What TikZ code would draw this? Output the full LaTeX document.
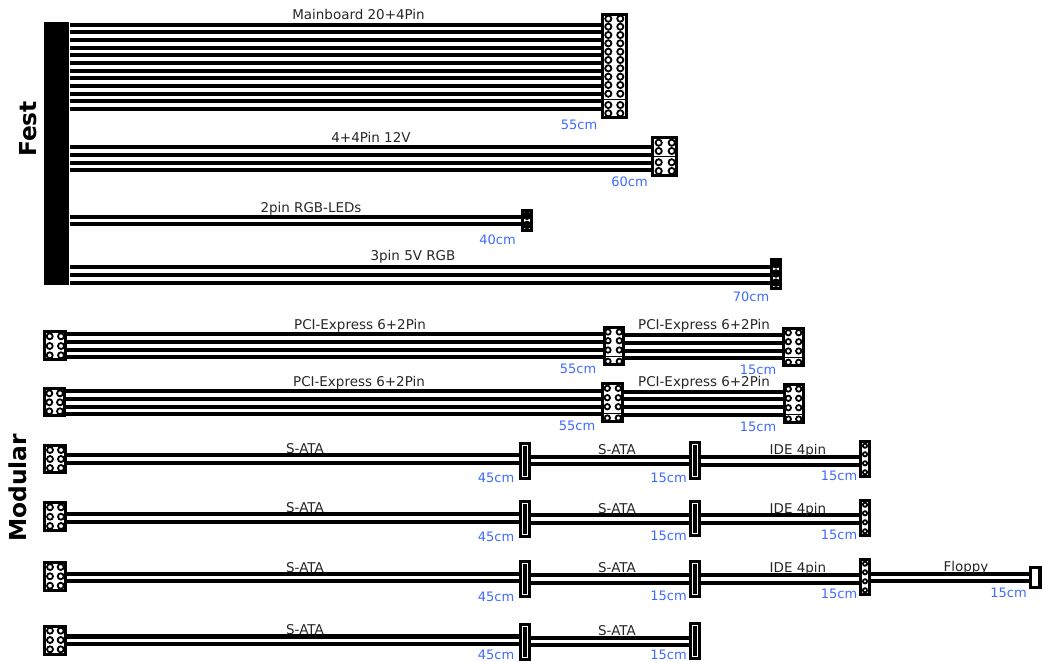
\documentclass[tikz,border=0pt]{standalone}
\usepackage{fontspec}
\setmainfont{DejaVu Sans}
\usepackage{xcolor}
\usetikzlibrary{positioning}
\definecolor{lengthblue}{HTML}{3F6BFF}
\newcommand{\wires}[3]{\foreach \y in {#3} \draw[wire] (#1.east |- 0,\y) -- (#2.west |- 0,\y);}
\newcommand{\rings}[3]{\foreach \x in {#1} \foreach \y in {#2} \draw[ringpin] (\x,\y) circle [radius=#3];}
\newcommand{\blackpins}[2]{\foreach \y in {#2} \fill (#1,\y) circle [radius=4.3];}
\newcommand{\parting}[2]{\draw[parting] (#1.west |- 0,#2) -- (#1.east |- 0,#2);}
\tikzset{
    wire/.style={line width=3.1pt, black},
    ringpin/.style={draw=black, fill=white, line width=1.35pt},
    parting/.style={line width=0.75pt, black, shorten <=0.75pt, shorten >=0.75pt},
    plug/.style 2 args={draw=black, fill=white, line width=2.25pt, inner sep=0pt,
        minimum width=#1*0.75pt, minimum height=#2*0.75pt},
    sataplug/.style={draw=black, fill=black, line width=2.25pt, double=white, double distance=0.75pt,
        inner sep=0pt, minimum width=3.75pt, minimum height=#1*0.75pt},
    cablename/.style={anchor=base, inner sep=0pt, text=black!85, font=\fontsize{10.1}{12}\selectfont},
    cablelength/.style={anchor=base, inner sep=0pt, text=lengthblue, font=\fontsize{9.75}{11}\selectfont},
    grouptitle/.style={anchor=center, rotate=90, inner sep=0pt, font=\fontsize{17.5}{20}\selectfont\bfseries}
}

\begin{document}
\begin{tikzpicture}[x=0.75pt, y=-0.75pt]
            \useasboundingbox (0,0) rectangle (1042,661);

            %Group titles
            \node[grouptitle] at (28,129) (fest) {Fest};
            \node[grouptitle] at (18,488) (modular) {Modular};

            %Fixed cables
            \node[fill=black, inner sep=0pt, minimum width=19.1pt, minimum height=196.9pt] at (56.75,153.25) (bar) {};
            \node[plug={23.4}{103}] at (614.5,66.3) (mainboard) {};
            \node[plug={23.4}{38}] at (664.5,156.8) (twelve) {};
            \node[plug={8.7}{19.4}] at (526.9,220.5) (rgbled) {};
            \node[plug={8.4}{28.4}] at (776,274) (rgbfive) {};

            %Modular cables
            \node[plug={20.4}{28}] at (55,345.8) (pcistartA) {};
            \node[plug={18.4}{37}] at (614,346) (pcimidA) {};
            \node[plug={19.4}{37.3}] at (793.5,347.2) (pciendA) {};
            \node[plug={19.4}{26.7}] at (54.5,402.2) (pcistartB) {};
            \node[plug={19.7}{38}] at (612.7,402.8) (pcimidB) {};
            \node[plug={19}{38}] at (793.7,403.8) (pciendB) {};

            \node[plug={20.4}{27.3}] at (55,459.2) (sataA) {};
            \node[sataplug=31.3] at (525,460.8) (sataAa) {};
            \node[sataplug=31.7] at (695,460.3) (sataAb) {};
            \node[plug={9}{34.7}] at (865,458.8) (ideA) {};

            \node[plug={20.4}{28.3}] at (55,516.7) (sataB) {};
            \node[sataplug=30.7] at (525,518.8) (sataBa) {};
            \node[sataplug=30.3] at (695,518.7) (sataBb) {};
            \node[plug={9}{34.7}] at (865,517.8) (ideB) {};

            \node[plug={20.4}{27.7}] at (55,576.3) (sataC) {};
            \node[sataplug=30.7] at (525,578.8) (sataCa) {};
            \node[sataplug=30.7] at (695,578.8) (sataCb) {};
            \node[plug={9}{34.7}] at (865,576.8) (ideC) {};
            \node[plug={20}{19.7}] at (1040,577.3) (floppy) {};
            \node[fill=black, inner sep=0pt, minimum width=9pt, minimum height=17pt] at (1044,577.3) (floppyend) {};

            \node[plug={20.4}{27.7}] at (55,640.3) (sataD) {};
            \node[sataplug=31] at (525,641.7) (sataDa) {};
            \node[sataplug=31] at (695,641.3) (sataDb) {};

            %Lines
            \wires{bar}{mainboard}{24.7,32.3,40,47.7,55.3,63,70.7,78.3,86,93.7,101.3,109}
            \wires{bar}{twelve}{146.7,154.7,162.7,170.3}
            \wires{bar}{rgbled}{216.7,224.3}
            \wires{bar}{rgbfive}{267,275,282.7}

            \wires{pcistartA}{pcimidA}{334,342,350,357.3}
            \wires{pcimidA}{pciendA}{335,342.7,350.7,358.3}
            \wires{pcistartB}{pcimidB}{390.7,398.7,406.7,414.3}
            \wires{pcimidB}{pciendB}{391.7,399.3,407,414.7}

            \wires{sataA}{sataAa}{455,462.7}
            \wires{sataAa}{sataAb}{456.7,464.3}
            \wires{sataAb}{ideA}{457.3,464.7}
            \wires{sataB}{sataBa}{514.3,521.7}
            \wires{sataBa}{sataBb}{515.3,523}
            \wires{sataBb}{ideB}{515,522.7}
            \wires{sataC}{sataCa}{573.7,581}
            \wires{sataCa}{sataCb}{575.3,583}
            \wires{sataCb}{ideC}{575.3,583}
            \wires{ideC}{floppy}{574,581.3}
            \wires{sataD}{sataDa}{636.5,644}
            \wires{sataDa}{sataDb}{637.7,645.3}

            %Pins
            \rings{608.3,620.3}{18.7,26.7,35,43.3,51.7,60,68.3,76.7,85,93.7,105,113.3}{3.1}
            \rings{658.7,671.7}{142.7,151,162.3,171}{3.1}
            \blackpins{527}{215.7,225}
            \blackpins{776}{264.3,273.5,282.7}
            \rings{49.7,61}{336.3,346,355.3}{3}
            \rings{608,619.3}{332,340.7,350,361.3}{2.7}
            \rings{788.3,798.7}{332.7,341.7,351,362.3}{2.7}
            \rings{49.3,60}{393.3,402.3,411.3}{3}
            \rings{607.3,618.3}{388.3,397.7,406.7,418}{2.7}
            \rings{788.3,798.7}{389,398.3,407.7,419}{2.7}
            \rings{50,61}{450,459,468}{3}
            \rings{50,61}{507.3,516.7,526}{3}
            \rings{50,60.7}{567,576.3,585.7}{3}
            \rings{50,60.7}{630.7,640,649.3}{3}
            \rings{865}{445.7,454.3,463.3,472.3}{2.1}
            \rings{865}{504.7,513.3,522.3,531.3}{2.1}
            \rings{865}{563.7,572.3,581.3,590.3}{2.1}
            \parting{mainboard}{99.3}
            \parting{twelve}{156}
            \parting{pcimidA}{356.7}
            \parting{pciendA}{357.7}
            \parting{pcimidB}{413.3}
            \parting{pciendB}{414}

            %Cable names
            \node[cablename] at (358.5,19.5) (nameboard) {Mainboard 20+4Pin};
            \node[cablename] at (371,142.5) (nametwelve) {4+4Pin 12V};
            \node[cablename] at (311,212.5) (nameled) {2pin RGB-LEDs};
            \node[cablename] at (413,260.5) (namefive) {3pin 5V RGB};
            \node[cablename] at (360,329) (namepciA) {PCI-Express 6+2Pin};
            \node[cablename] at (704,329.5) (namepciAb) {PCI-Express 6+2Pin};
            \node[cablename] at (359,386) (namepciB) {PCI-Express 6+2Pin};
            \node[cablename] at (704,386.5) (namepciBb) {PCI-Express 6+2Pin};
            \node[cablename] at (305,453.5) (namesataA) {S-ATA};
            \node[cablename] at (617,454) (namesataAb) {S-ATA};
            \node[cablename] at (798,454) (nameideA) {IDE 4pin};
            \node[cablename] at (305,512.5) (namesataB) {S-ATA};
            \node[cablename] at (617,513) (namesataBb) {S-ATA};
            \node[cablename] at (798,513) (nameideB) {IDE 4pin};
            \node[cablename] at (305,572) (namesataC) {S-ATA};
            \node[cablename] at (617,572.5) (namesataCb) {S-ATA};
            \node[cablename] at (798,572.5) (nameideC) {IDE 4pin};
            \node[cablename] at (966,571) (namefloppy) {Floppy};
            \node[cablename] at (305,634.5) (namesataD) {S-ATA};
            \node[cablename] at (617,635) (namesataDb) {S-ATA};

            %Cable lengths
            \node[cablelength] at (579,129) (lenboard) {55cm};
            \node[cablelength] at (629.5,186) (lentwelve) {60cm};
            \node[cablelength] at (497.5,244) (lenled) {40cm};
            \node[cablelength] at (751,301.7) (lenfive) {70cm};
            \node[cablelength] at (578,373) (lenpciA) {55cm};
            \node[cablelength] at (758,374) (lenpciAb) {15cm};
            \node[cablelength] at (577,430) (lenpciB) {55cm};
            \node[cablelength] at (758,431) (lenpciBb) {15cm};
            \node[cablelength] at (496,482) (lensataA) {45cm};
            \node[cablelength] at (668.5,482) (lensataAb) {15cm};
            \node[cablelength] at (839,480) (lenideA) {15cm};
            \node[cablelength] at (496,541) (lensataB) {45cm};
            \node[cablelength] at (668.5,540) (lensataBb) {15cm};
            \node[cablelength] at (839,539) (lenideB) {15cm};
            \node[cablelength] at (496,601) (lensataC) {45cm};
            \node[cablelength] at (668.5,600) (lensataCb) {15cm};
            \node[cablelength] at (839,598) (lenideC) {15cm};
            \node[cablelength] at (1008.5,597) (lenfloppy) {15cm};
            \node[cablelength] at (496,659.5) (lensataD) {45cm};
            \node[cablelength] at (668.5,659.5) (lensataDb) {15cm};
        \end{tikzpicture}
\end{document}
